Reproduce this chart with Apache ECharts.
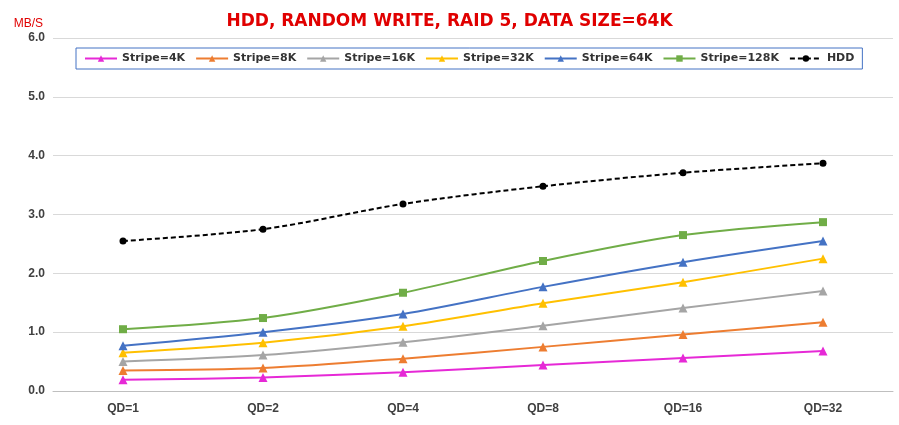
<!DOCTYPE html>
<html><head><meta charset="utf-8">
<script src="https://cdn.jsdelivr.net/npm/echarts@6/dist/echarts.min.js"></script>
<style>html,body{margin:0;padding:0;background:#fff}#c{width:899px;height:425px}</style>
</head><body><div id="c"></div>
<script>
const categories=['QD=1','QD=2','QD=4','QD=8','QD=16','QD=32'];
const s4K=[0.19,0.23,0.32,0.44,0.56,0.68];
const s8K=[0.35,0.39,0.55,0.75,0.96,1.17];
const s16K=[0.50,0.61,0.83,1.11,1.41,1.70];
const s32K=[0.65,0.82,1.10,1.49,1.85,2.25];
const s64K=[0.77,1.00,1.31,1.77,2.19,2.55];
const s128K=[1.05,1.24,1.67,2.21,2.65,2.87];
const hdd=[2.55,2.75,3.18,3.48,3.71,3.87];
const yTicks=['0.0','1.0','2.0','3.0','4.0','5.0','6.0'];
const mk=(name,data,color,sym)=>({name,type:'line',data,smooth:0.3,symbol:sym,symbolSize:sym==='rect'?8:9,
 lineStyle:{color,width:2},itemStyle:{color}});
const series=[mk('Stripe=4K',s4K,'#E629D6','triangle'),mk('Stripe=8K',s8K,'#ED7D31','triangle'),
 mk('Stripe=16K',s16K,'#A5A5A5','triangle'),mk('Stripe=32K',s32K,'#FFC000','triangle'),
 mk('Stripe=64K',s64K,'#4472C4','triangle'),mk('Stripe=128K',s128K,'#70AD47','rect'),
 {name:'HDD',type:'line',data:hdd,smooth:0.3,symbol:'circle',symbolSize:7,lineStyle:{color:'#000',width:2,type:[5,3]},itemStyle:{color:'#000'}}];
const ch=echarts.init(document.getElementById('c'));
ch.setOption({animation:false,
 title:{text:'HDD, RANDOM WRITE, RAID 5, DATA SIZE=64K',left:'center',top:8,textStyle:{color:'#E00000',fontSize:17,fontWeight:'bold',fontFamily:'DejaVu Sans'}},
 legend:{top:48,left:76,width:830,itemGap:10,itemWidth:32,itemHeight:8,borderColor:'#4472C4',borderWidth:1,padding:[5,8],
  textStyle:{fontSize:11,fontWeight:'bold',color:'#333',fontFamily:'DejaVu Sans'}},
 grid:{left:53,right:6,top:38,bottom:34},
 xAxis:{type:'category',data:categories,axisTick:{show:false},axisLine:{lineStyle:{color:'#bfbfbf'}},
  axisLabel:{color:'#404040',fontWeight:'bold',fontSize:12,margin:12}},
 yAxis:{type:'value',min:0,max:6,interval:1,name:'MB/S',nameLocation:'end',nameGap:8,
  nameTextStyle:{color:'#E00000',fontSize:12,align:'right',padding:[0,10,0,0]},
  axisLabel:{color:'#404040',fontWeight:'bold',fontSize:12,formatter:v=>yTicks[Math.round(v)]},
  splitLine:{lineStyle:{color:'#d9d9d9'}},axisLine:{show:false}},
 series});
</script></body></html>
